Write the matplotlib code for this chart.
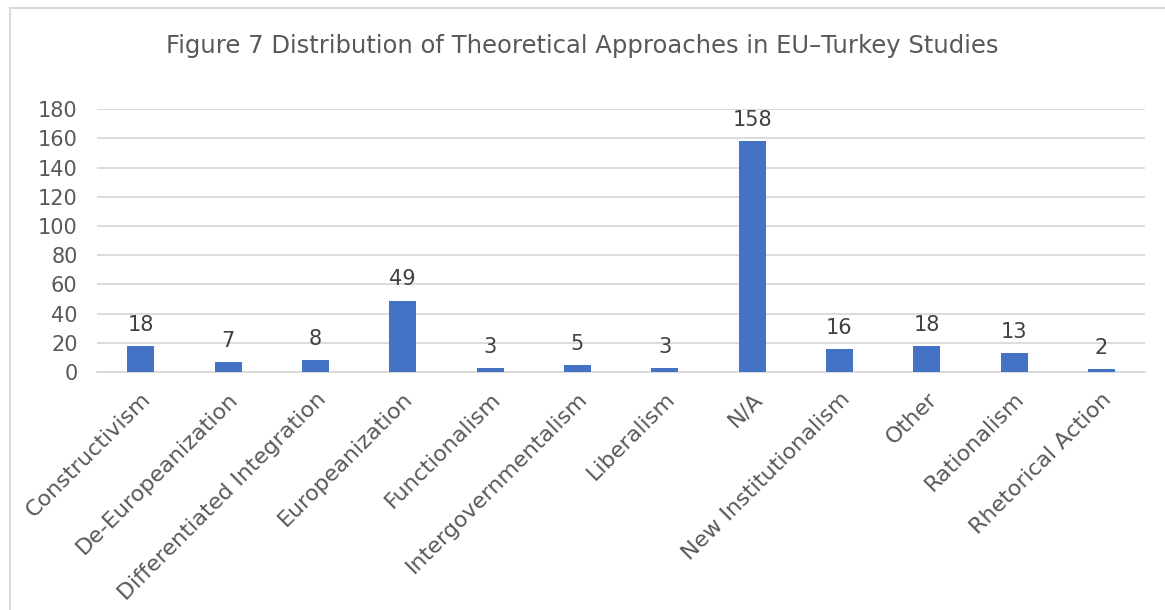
import matplotlib.pyplot as plt
from matplotlib.lines import Line2D
import numpy as np

categories = ['Constructivism', 'De-Europeanization', 'Differentiated Integration',
              'Europeanization', 'Functionalism', 'Intergovernmentalism', 'Liberalism',
              'N/A', 'New Institutionalism', 'Other', 'Rationalism', 'Rhetorical Action']
counts = [18, 7, 8, 49, 3, 5, 3, 158, 16, 18, 13, 2]
y_ticks = [0, 20, 40, 60, 80, 100, 120, 140, 160, 180]

title = 'Figure 7 Distribution of Theoretical Approaches in EU\u2013Turkey Studies'

bar_color = '#4472C4'
text_gray = '#595959'
grid_gray = '#D9D9D9'

plt.rcParams['font.family'] = ['DejaVu Sans']

fig = plt.figure(figsize=(11.65, 6.1), dpi=100)
ax = fig.add_axes([0.0833, 0.390, 0.8997, 0.431])

x = np.arange(len(categories))
bars = ax.bar(x, counts, width=0.31, color=bar_color, zorder=3)

for xi, v in zip(x, counts):
    ax.annotate(str(v), (xi, v), xytext=(0, 8), textcoords='offset points',
                ha='center', va='bottom', fontsize=15, color='#404040')

ax.set_xlim(-0.5, len(categories) - 0.5)
ax.set_ylim(0, 180)
ax.set_yticks(y_ticks)
ax.yaxis.grid(True, color=grid_gray, linewidth=1.3, zorder=0)
ax.tick_params(axis='y', length=0, labelsize=15, labelcolor=text_gray, pad=14)
ax.tick_params(axis='x', length=0, labelsize=16, labelcolor=text_gray, pad=12)
ax.set_xticks(x)
ax.set_xticklabels(categories, rotation=45, ha='right', rotation_mode='anchor')
for s in ['top', 'right', 'left']:
    ax.spines[s].set_visible(False)
ax.spines['bottom'].set_color(grid_gray)
ax.spines['bottom'].set_linewidth(1.3)

fig.text(0.5, 0.925, title, ha='center', va='center', fontsize=17.5, color=text_gray)

# chart frame (top and left edges)
fig.add_artist(Line2D([10 / 1165, 1], [1 - 8 / 610, 1 - 8 / 610],
                      transform=fig.transFigure, color='#D9D9D9', linewidth=1.5))
fig.add_artist(Line2D([10 / 1165, 10 / 1165], [0, 1 - 8 / 610],
                      transform=fig.transFigure, color='#D9D9D9', linewidth=1.5))

fig.savefig('out.png', dpi=100, facecolor='white')
